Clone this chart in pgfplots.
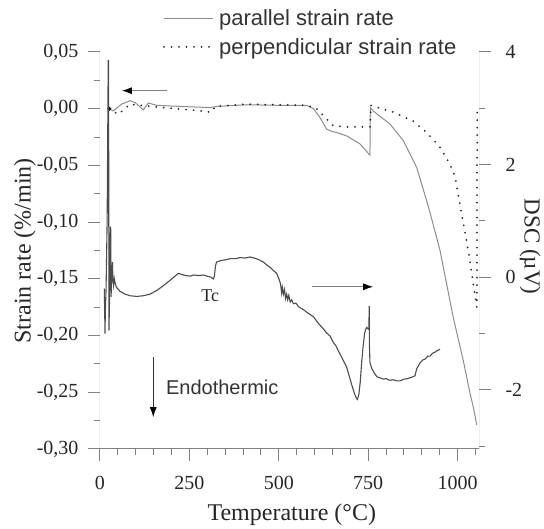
\documentclass[border=0pt]{standalone}
\usepackage{fontspec}
\setmainfont{Liberation Serif}
\newfontfamily\sans{Liberation Sans}
\usepackage{pgfplots}
\pgfplotsset{compat=1.18}
\usetikzlibrary{arrows.meta}

\pgfplotstableread{
T S
26 0.000
37 -0.002
60 0.004
84 0.007
98 0.0055
121 -0.001
135 0.005
159 0.003
224 0.002
308 0.001
326 0.002
410 0.0035
500 0.003
578 0.003
597 0.000
615 -0.0077
634 -0.018
648 -0.020
662 -0.021
690 -0.024
727 -0.031
755 -0.041
756 0.001
764 -0.002
811 -0.0135
848 -0.028
886 -0.052
920 -0.088
951 -0.125
988 -0.184
1016 -0.222
1035 -0.251
1044 -0.263
1054 -0.279
}\partable

\pgfplotstableread{
T S
26 0.000
51 -0.005
84 0.004
112 0.003
177 0.001
252 -0.001
312 -0.003
322 0.002
410 0.004
578 0.003
606 0.000
634 -0.009
652 -0.015
690 -0.016
756 -0.016
757 0.003
820 -0.003
876 -0.011
914 -0.021
951 -0.034
979 -0.049
993 -0.060
1007 -0.085
1030 -0.125
1044 -0.154
1054 -0.175
1055 0.000
}\perptable

\pgfplotstableread{
T D
12 -0.20
13 -0.55
14 -1.00
15 -0.60
17 -0.20
20 1.0
23 3.85
24 3.85
25 -0.95
27 -0.3
29 0.9
30 0.85
31 -0.35
33 0.1
35 0.27
36 -0.05
38 -0.15
40 -0.02
42 -0.09
46 -0.18
56 -0.25
70 -0.30
85 -0.33
103 -0.34
120 -0.33
140 -0.30
160 -0.23
177 -0.15
195 -0.06
210 0.02
219 0.07
228 0.05
240 0.03
252 0.02
262 0.04
275 0.03
289 0.04
300 0.02
310 0.00
317 -0.03
320 0.02
323 0.20
326 0.27
340 0.30
352 0.31
364 0.33
380 0.33
392 0.35
405 0.34
420 0.36
432 0.34
445 0.31
457 0.27
466 0.22
475 0.18
485 0.12
494 0.07
500 -0.02
505 -0.12
508 -0.28
510 -0.18
513 -0.30
516 -0.22
519 -0.38
522 -0.30
525 -0.40
528 -0.32
532 -0.44
536 -0.40
541 -0.47
548 -0.46
555 -0.52
562 -0.55
570 -0.58
578 -0.62
587 -0.66
597 -0.70
606 -0.78
615 -0.85
624 -0.91
634 -0.99
643 -1.04
652 -1.15
660 -1.22
670 -1.35
680 -1.47
690 -1.60
699 -1.80
706 -1.95
712 -2.07
717 -2.15
720 -2.17
724 -2.08
728 -1.85
732 -1.50
736 -1.22
740 -1.00
744 -0.91
746 -0.89
750 -0.92
752 -0.90
753 -0.51
753.5 -1.20
755 -1.51
760 -1.62
767 -1.70
775 -1.77
785 -1.79
792 -1.81
800 -1.80
810 -1.83
820 -1.82
830 -1.84
839 -1.84
850 -1.81
860 -1.80
870 -1.78
881 -1.75
886 -1.62
890 -1.58
895 -1.52
903 -1.47
910 -1.45
917 -1.40
923 -1.40
930 -1.35
937 -1.33
944 -1.30
951 -1.28
}\dsctable

\begin{document}
\begin{tikzpicture}
\path (-100pt,-75pt) rectangle (444pt,449pt);
\begin{axis}[
  at={(0pt,0pt)}, anchor=south west,
  scale only axis, width=379pt, height=397pt,
  xmin=0, xmax=1060, ymin=-0.30, ymax=0.05,
  axis line style={draw=none},
  xtick pos=bottom, ytick pos=left,
  tick align=outside, major tick length=12pt, minor tick length=6pt,
  tick style={black!50, line width=1pt},
  scaled x ticks=false, scaled y ticks=false,
  xtick={0,250,500,750,1000}, xticklabels={0,250,500,750,1000},
  minor xtick={50,100,150,200,300,350,400,450,550,600,650,700,800,850,900,950,1050},
  ytick={-0.30,-0.25,-0.20,-0.15,-0.10,-0.05,0,0.05},
  yticklabels={{-0,30},{-0,25},{-0,20},{-0,15},{-0,10},{-0,05},{0,00},{0,05}},
  minor ytick={-0.275,-0.225,-0.175,-0.125,-0.075,-0.025,0.025},
  ticklabel style={font=\fontsize{20}{20}\selectfont, text=black!85},
  xticklabel style={yshift=-12pt},
  yticklabel style={xshift=-6pt},
  xlabel={Temperature (°C)}, ylabel={Strain rate (\%/min)},
  label style={font=\fontsize{24}{28}\selectfont, text=black!85},
  xlabel style={at={(axis description cs:0.506,-0.165)}, anchor=center},
  ylabel style={at={(axis description cs:-0.198,0.499)}, anchor=center},
  legend style={draw=none, fill=none, at={(axis description cs:0.158,1.117)}, anchor=north west,
    font=\sans\fontsize{22}{26}\selectfont, text=black!80, row sep=7pt, column sep=3pt},
  legend cell align=left,
  legend image code/.code={\draw[#1] (0pt,0pt) -- (49pt,0pt);},
]
\addplot[black!45, line width=1pt] table[x=T, y=S] {\partable};
\addlegendentry{parallel strain rate}
\addplot[black!85, line width=2pt, line cap=round, dash pattern=on 0pt off 7.5pt] table[x=T, y=S] {\perptable};
\addlegendentry{perpendicular strain rate}
\addplot[only marks, mark=*, mark size=1.8pt, black, forget plot] coordinates {(26,0)};
\draw[black!50, line width=1pt, line cap=rect] (rel axis cs:0,1) -- (rel axis cs:0,0) -- (rel axis cs:1,0);
\draw[black!50, line width=1pt, -{Latex[length=10pt,width=7pt,color=black]}] (axis cs:187,0.0159) -- (axis cs:61,0.0159);
\draw[black!50, line width=1pt, -{Latex[length=10pt,width=7pt,color=black]}] (axis cs:592,-0.157) -- (axis cs:764,-0.157);
\draw[black!80, line width=1pt, -{Latex[length=10pt,width=7pt,color=black]}] (axis cs:149,-0.219) -- (axis cs:149,-0.272);
\node[font=\sans\fontsize{20}{24}\selectfont, anchor=west, text=black!80] at (axis cs:175,-0.2455) {Endothermic};
\node[font=\fontsize{18}{20}\selectfont, text=black!85] at (axis cs:308,-0.165) {Tc};
\end{axis}
\begin{axis}[
  at={(0pt,0pt)}, anchor=south west,
  scale only axis, width=379pt, height=397pt,
  xmin=0, xmax=1060, ymin=-3.05, ymax=4,
  axis line style={draw=none},
  xtick=\empty, ytick pos=right,
  tick align=outside, major tick length=12pt, minor tick length=6pt,
  tick style={black!50, line width=1pt},
  ytick={-2,0,2,4}, yticklabels={-2,0,2,4},
  minor ytick={-3,-1,1,3},
  ticklabel style={font=\fontsize{20}{20}\selectfont, text=black!85},
  yticklabel style={xshift=11pt},
  ylabel={DSC (µV)},
  label style={font=\fontsize{23}{28}\selectfont, text=black!85},
  ylabel style={at={(axis description cs:1.135,0.51)}, anchor=center, rotate=180},
]
\addplot[black!70, line width=1.1pt] table[x=T, y=D] {\dsctable};
\draw[black!50, line width=1pt, line cap=rect] (rel axis cs:1,0) -- (rel axis cs:1,1);
\end{axis}
\end{tikzpicture}
\end{document}
